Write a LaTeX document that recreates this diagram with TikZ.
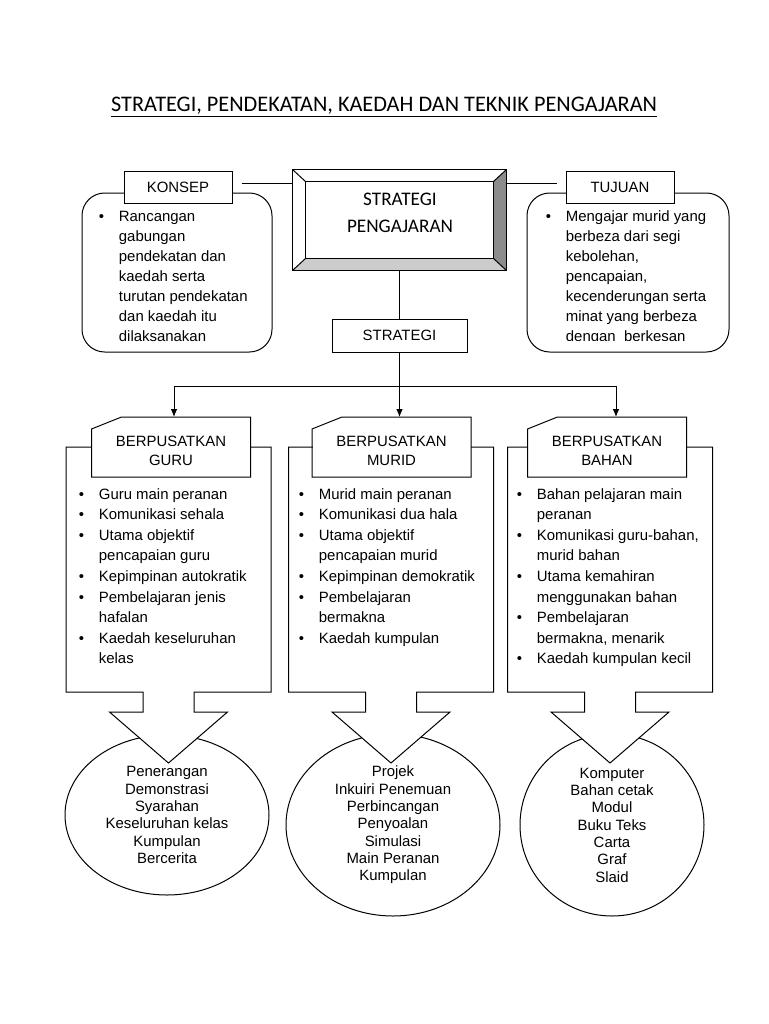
\documentclass[tikz,border=0pt]{standalone}
\usepackage{fontspec}
\setmainfont{Liberation Sans}
\newfontfamily\calibri{Carlito}
\usetikzlibrary{shapes.geometric, arrows.meta}

\newcommand{\blist}[1]{\begin{tabular}[t]{@{}p{15pt}@{}l@{}}#1\end{tabular}}
\newcommand{\bi}{\textbullet &}

\begin{document}
\begin{tikzpicture}[x=0.75pt,y=-0.75pt,>={Latex[length=6pt,width=5pt]},line width=0.75pt,
        box/.style={draw,fill=white,inner sep=0pt,minimum height=24pt,font=\fontsize{11.2}{14}\selectfont},
        hdr/.style={fill=white,inner sep=0pt,minimum width=118.5pt,minimum height=44.25pt,align=center,font=\fontsize{11.2}{14.3}\selectfont},
        list/.style={anchor=base west,inner sep=0pt,font=\fontsize{11.2}{15.45}\selectfont},
        oval/.style={draw,ellipse,inner sep=0pt,align=center,font=\fontsize{11.2}{13}\selectfont}]
            \useasboundingbox (0,0) rectangle (768,1024);

            % title
            \node[anchor=base,inner sep=0pt,font=\calibri\fontsize{16.7}{20}\selectfont] (title) at (384,112) {STRATEGI, PENDEKATAN, KAEDAH DAN TEKNIK PENGAJARAN};
            \draw[line width=1pt] ([yshift=-3.5pt]title.base west) -- ([yshift=-3.5pt]title.base east);

            % bevelled box
            \node[minimum width=159.75pt,minimum height=75pt,inner sep=0pt] (sp) at (399.5,220) {};
            \path (sp.north west) ++(13,12) coordinate (inw)
                  (sp.north east) ++(-13,12) coordinate (ine)
                  (sp.south east) ++(-13,-12) coordinate (ise)
                  (sp.south west) ++(13,-12) coordinate (isw);
            \fill[black!45] (sp.north east) -- (sp.south east) -- (ise) -- (ine) -- cycle;
            \fill[black!20] (sp.south west) -- (sp.south east) -- (ise) -- (isw) -- cycle;
            \draw (inw) rectangle (ise);
            \draw (sp.north west) -- (inw) (sp.north east) -- (ine) (sp.south west) -- (isw) (sp.south east) -- (ise);
            \draw[line width=1.2pt] (sp.north west) rectangle (sp.south east);
            \node[align=center,font=\calibri\fontsize{14.4}{20.3}\selectfont] (sptxt) at (400,212.5) {STRATEGI\\PENGAJARAN};

            % konsep and tujuan
            \draw[rounded corners=17pt] (82,193) rectangle (272,352);
            \node[box,minimum width=81pt] (konsep) at (178,187) {KONSEP};
            \node[list,font=\fontsize{11.2}{15}\selectfont] (konseptxt) at (98.4,221)
                {\blist{\bi Rancangan\\ & gabungan\\ & pendekatan dan\\ & kaedah serta\\ & turutan pendekatan\\ & dan kaedah itu\\ & dilaksanakan}};

            \draw[rounded corners=17pt] (527,193) rectangle (729,352);
            \node[box,minimum width=81pt] (tujuan) at (620,187) {TUJUAN};
            \begin{scope}
                \clip (527,193) rectangle (729,340);
                \node[list,font=\fontsize{11.2}{15}\selectfont] (tujuantxt) at (545.4,221)
                    {\blist{\bi Mengajar murid yang\\ & berbeza dari segi\\ & kebolehan,\\ & pencapaian,\\ & kecenderungan serta\\ & minat yang berbeza\\ & dengan~ berkesan}};
            \end{scope}

            \draw ([xshift=6.75pt,yshift=3pt]konsep.east) -- ([yshift=3pt]konsep.east -| sp.west);
            \draw ([yshift=3pt]tujuan.west -| sp.east) -- ([xshift=-6.75pt,yshift=3pt]tujuan.west);

            \node[box,minimum width=101.25pt,minimum height=24.75pt] (strat) at (399.5,335.5) {STRATEGI};
            \draw (sp) -- (strat);

            % teknik
            \node[oval,minimum width=153pt,minimum height=120pt] (teknik1) at (167,815)
                {Penerangan\\Demonstrasi\\Syarahan\\Keseluruhan kelas\\Kumpulan\\Bercerita};
            \node[oval,minimum width=160.5pt,minimum height=136.5pt] (teknik2) at (393,825)
                {Projek\\Inkuiri Penemuan\\Perbincangan\\Penyoalan\\Simulasi\\Main Peranan\\Kumpulan};
            \node[oval,minimum width=138pt,minimum height=136.5pt] (teknik3) at (612,825)
                {Komputer\\Bahan cetak\\Modul\\Buku Teks\\Carta\\Graf\\Slaid};

            % pendekatan
            \foreach \cx/\hx/\nm/\lbl in {168.5/171/guru/GURU, 391/391.5/murid/MURID, 610/607/bahan/BAHAN}{
                \draw[fill=white] (\cx-102.5,447) -- (\cx-102.5,692) -- (\cx-25.5,692) -- (\cx-25.5,712)
                    -- (\cx-59,712) -- (\cx,763) -- (\cx+59,712) -- (\cx+25.5,712) -- (\cx+25.5,692)
                    -- (\cx+102.5,692) -- (\cx+102.5,447) -- cycle;
                \node[hdr,anchor=north] (\nm) at (\hx,417) {\rule{0pt}{14pt}BERPUSATKAN\\\lbl};
                \draw ([xshift=22.5pt]\nm.north west) -- (\nm.north east) -- (\nm.south east)
                    -- (\nm.south west) -- ([yshift=-9pt]\nm.north west) -- cycle;
            }

            \node[list] (gurutxt) at (78.4,499)
                {\blist{\bi Guru main peranan\\ \bi Komunikasi sehala\\ \bi Utama objektif\\ & pencapaian guru\\ \bi Kepimpinan autokratik\\ \bi Pembelajaran jenis\\ & hafalan\\ \bi Kaedah keseluruhan\\ & kelas}};
            \node[list] (muridtxt) at (298.4,499)
                {\blist{\bi Murid main peranan\\ \bi Komunikasi dua hala\\ \bi Utama objektif\\ & pencapaian murid\\ \bi Kepimpinan demokratik\\ \bi Pembelajaran\\ & bermakna\\ \bi Kaedah kumpulan}};
            \node[list] (bahantxt) at (516.4,499)
                {\blist{\bi Bahan pelajaran main\\ & peranan\\ \bi Komunikasi guru-bahan,\\ & murid bahan\\ \bi Utama kemahiran\\ & menggunakan bahan\\ \bi Pembelajaran\\ & bermakna, menarik\\ \bi Kaedah kumpulan kecil}};

            % arrows
            \coordinate (barl) at (174,386);
            \coordinate (barr) at (616,386);
            \draw (barl) -- (barr);
            \draw[->] (strat.south) -- (strat.south |- murid.north);
            \draw[->] (barl) -- (barl |- guru.north);
            \draw[->] (barr) -- (barr |- bahan.north);

        \end{tikzpicture}
\end{document}
